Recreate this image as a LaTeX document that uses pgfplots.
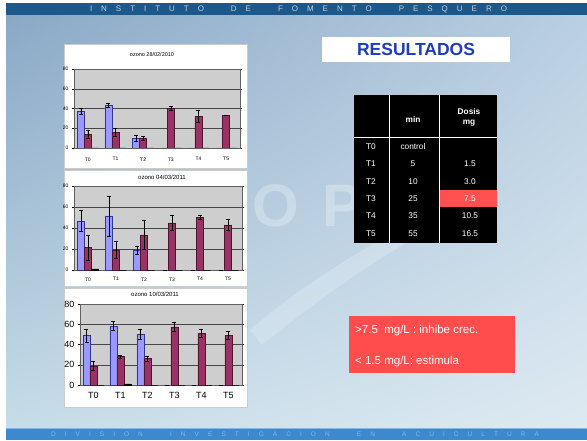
\documentclass[border=0pt]{standalone}
\usepackage{fontspec}
\setmainfont{Liberation Sans}
\usepackage{pgfplots}
\pgfplotsset{compat=1.18}
\usepackage{pgfplotstable}
\usetikzlibrary{shadings}

\definecolor{hdr}{RGB}{28,88,138}
\definecolor{hdrtxt}{RGB}{190,208,224}
\definecolor{ftr}{RGB}{60,138,205}
\definecolor{ftrtxt}{RGB}{130,185,230}
\definecolor{bgUL}{RGB}{138,168,198}
\definecolor{bgUR}{RGB}{185,207,226}
\definecolor{bgLL}{RGB}{198,220,232}
\definecolor{bgLR}{RGB}{222,234,242}
\definecolor{xlblue}{RGB}{153,153,255}
\definecolor{xlblueD}{RGB}{51,51,153}
\definecolor{xlred}{RGB}{153,51,102}
\definecolor{xlredD}{RGB}{80,20,50}
\definecolor{plotgray}{RGB}{206,206,206}
\definecolor{titleblue}{RGB}{30,60,190}
\definecolor{redbox}{RGB}{255,77,77}
\definecolor{redcell}{RGB}{255,80,80}

% x: category, b: blue, be: blue error, m: maroon, me: maroon error, k: third series
\pgfplotstableread{
x b be m me k
0 37 3 14 4 0
1 43 2 16 4 0
2 10 3 9.5 2 0
3 0 0 40 2 0
4 0 0 32 6 0
5 0 0 33 0 0
}\dataA
\pgfplotstableread{
x b be m me k
0 46.5 10 21.5 12 1
1 51.5 19 19 8 0
2 19 4 33.5 14 0
3 0 0 45 7 0
4 0 0 50 2 0
5 0 0 43 5 0
}\dataB
\pgfplotstableread{
x b be m me k
0 48.7 6 19 4 0
1 58.5 4 28 1.5 1
2 50 5 26 2.6 0
3 0 0 57.5 4 0
4 0 0 51 4 0
5 0 0 48.7 4 0
}\dataC

\pgfplotsset{
  xlchart/.style={
    scale only axis, ybar=0pt, bar width=7pt,
    xmin=-0.5, xmax=5.5, ymin=0, ymax=80,
    enlarge x limits=false, enlarge y limits=false,
    xtick={0,...,5}, xticklabels={T0,T1,T2,T3,T4,T5},
    ytick={0,20,40,60,80},
    ymajorgrids, grid style={gray!55!black, line width=0.3pt},
    axis background/.style={fill=plotgray},
    axis line style={gray!75!black, line width=0.4pt},
    xtick style={draw=none}, ytick style={black, line width=0.3pt},
    tick align=outside, major tick length=2pt,
    /pgf/number format/assume math mode=true,
  },
  serB/.style={fill=xlblue, draw=xlblueD, line width=0.4pt,
    error bars/.cd, y dir=both, y explicit,
    error bar style={black, line width=0.5pt},
    error mark options={rotate=90, black, mark size=2pt, line width=0.5pt}},
  serM/.style={fill=xlred, draw=xlredD, line width=0.4pt,
    error bars/.cd, y dir=both, y explicit,
    error bar style={black, line width=0.5pt},
    error mark options={rotate=90, black, mark size=2pt, line width=0.5pt}},
  serK/.style={fill=black!85, draw=black, line width=0.4pt},
}

\newcommand{\g}{\hfill}
\newcommand{\w}{\hfill\hfill\hfill}

\begin{document}
\begin{tikzpicture}[x=1pt,y=1pt]
\useasboundingbox (0,0) rectangle (587,440);
\fill[white] (0,0) rectangle (587,440);
% slide background
\shade[upper left=bgUL, upper right=bgUR, lower left=bgLL, lower right=bgLR] (6,12) rectangle (587,425);
% watermark
\fill[white, opacity=0.2] (250,110) .. controls (320,170) and (380,200) .. (445,235) -- (450,222) .. controls (390,190) and (330,150) .. (262,95) -- cycle;
\node[white, opacity=0.28, font=\bfseries\fontsize{60}{60}\selectfont] at (276,234) {O};
\node[white, opacity=0.28, font=\bfseries\fontsize{60}{60}\selectfont] at (343,234) {P};
% header
\fill[hdr] (6,425) rectangle (587,437);
\node[hdrtxt, font=\fontsize{8}{8}\selectfont, inner sep=0pt] at (298.5,431) {\hbox to 417pt{I\g N\g S\g T\g I\g T\g U\g T\g O\w D\g E\w F\g O\g M\g E\g N\g T\g O\w P\g E\g S\g Q\g U\g E\g R\g O}};
% footer
\fill[ftr] (6,0) rectangle (587,12);
\draw[ftrtxt, line width=0.6pt] (6,12) -- (587,12);
\node[ftrtxt, font=\fontsize{6.5}{7}\selectfont, inner sep=0pt] at (295,5.5) {\hbox to 488pt{D\g I\g V\g I\g S\g I\g O\g N\w I\g N\g V\g E\g S\g T\g I\g G\g A\g C\g I\g O\g N\w E\g N\w A\g C\g U\g I\g C\g U\g L\g T\g U\g R\g A}};

% chart panels
\filldraw[fill=white, draw=gray!40] (64,272) rectangle (247,396);
\filldraw[fill=white, draw=gray!40] (64,154) rectangle (247,270);
\filldraw[fill=white, draw=gray!40] (64,33) rectangle (247,152);

% chart 1
\node[font=\fontsize{5.5}{6}\selectfont] at (152,385) {ozono 28/02/2010};
\begin{axis}[xlchart, at={(74pt,292pt)}, anchor=south west, width=166pt, height=79pt,
  ticklabel style={font=\fontsize{5}{6}\selectfont},
  xticklabel style={yshift=-4pt}]
\addplot[serB] table[x=x,y=b,y error=be]{\dataA};
\addplot[serM] table[x=x,y=m,y error=me]{\dataA};
\addplot[serK] table[x=x,y=k]{\dataA};
\end{axis}

% chart 2
\node[font=\fontsize{6}{7}\selectfont] at (162,263) {ozono 04/03/2011};
\begin{axis}[xlchart, at={(74pt,170pt)}, anchor=south west, width=168pt, height=84pt,
  ticklabel style={font=\fontsize{5}{6}\selectfont},
  xticklabel style={yshift=-2pt}]
\addplot[serB] table[x=x,y=b,y error=be]{\dataB};
\addplot[serM] table[x=x,y=m,y error=me]{\dataB};
\addplot[serK] table[x=x,y=k]{\dataB};
\end{axis}

% chart 3
\node[font=\fontsize{6}{7}\selectfont] at (155,146) {ozono 10/03/2011};
\begin{axis}[xlchart, at={(80pt,55pt)}, anchor=south west, width=162pt, height=81pt,
  ticklabel style={font=\fontsize{9}{10}\selectfont},
  xticklabel style={yshift=-2pt}]
\addplot[serB] table[x=x,y=b,y error=be]{\dataC};
\addplot[serM] table[x=x,y=m,y error=me]{\dataC};
\addplot[serK] table[x=x,y=k]{\dataC};
\end{axis}

% title box
\fill[white] (322,378) rectangle (510,403);
\node[titleblue, font=\bfseries\fontsize{17.5}{18}\selectfont] at (416,391) {RESULTADOS};

% table
\fill[black] (354,197) rectangle (497,345);
\fill[redcell] (440,233) rectangle (497,250);
\draw[white, line width=0.6pt] (389.5,197) -- (389.5,345);
\draw[white, line width=0.6pt] (439.5,197) -- (439.5,345);
\draw[white, line width=0.6pt] (354,303) -- (497,303);
\begin{scope}[every node/.style={white, font=\fontsize{8.3}{9}\selectfont, inner sep=0pt}]
\node[font=\bfseries\fontsize{8.3}{9}\selectfont] at (413,321) {min};
\node[font=\bfseries\fontsize{8.3}{9}\selectfont] at (469,328.5) {Dosis};
\node[font=\bfseries\fontsize{8.3}{9}\selectfont] at (469,316.5) {mg};
\node at (371,293.3) {T0}; \node at (413,293.3) {control};
\node at (371,276) {T1}; \node at (413,276) {5}; \node at (470,276) {1.5};
\node at (371,258.7) {T2}; \node at (413,258.7) {10}; \node at (470,258.7) {3.0};
\node at (371,241.4) {T3}; \node at (413,241.4) {25}; \node at (470,241.4) {7.5};
\node at (371,224) {T4}; \node at (413,224) {35}; \node at (470,224) {10.5};
\node at (371,206.7) {T5}; \node at (413,206.7) {55}; \node at (470,206.7) {16.5};
\end{scope}

% red box
\fill[redbox] (349,67) rectangle (515,124);
\node[white, anchor=west, inner sep=0pt, font=\fontsize{11.5}{12}\selectfont] at (355,109.3) {>7.5\ \ mg/L : inhibe crec.};
\node[white, anchor=west, inner sep=0pt, font=\fontsize{11.5}{12}\selectfont] at (355,78.3) {< 1.5 mg/L: estimula};
\end{tikzpicture}
\end{document}
